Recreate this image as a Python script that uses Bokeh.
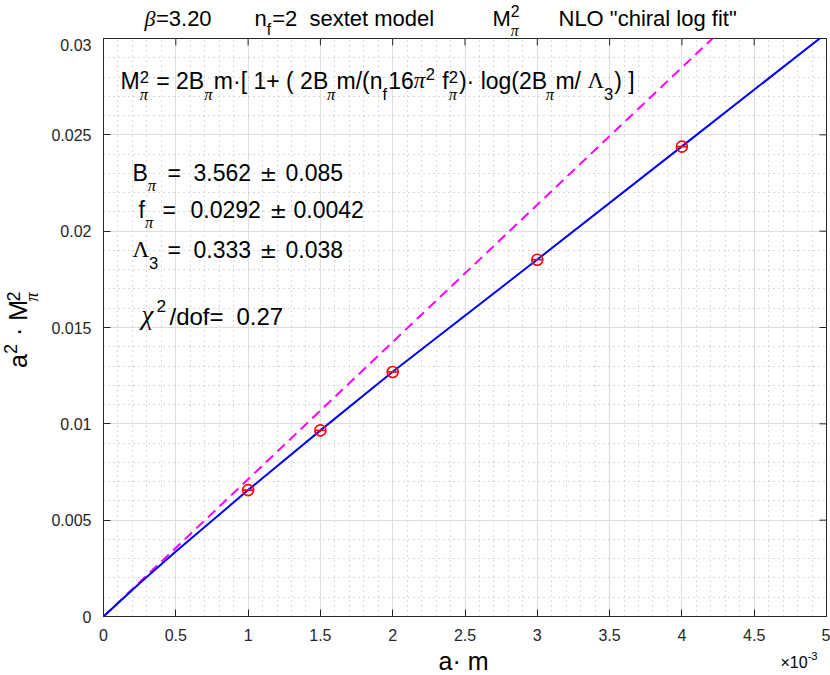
import math
from bokeh.plotting import figure
from bokeh.layouts import column, row
from bokeh.models import Label, Range1d, FixedTicker, CustomJSTickFormatter
from bokeh.embed import file_html
from bokeh.resources import INLINE

# ---------------- data ----------------
am_data = [1.0e-3, 1.5e-3, 2.0e-3, 3.0e-3, 4.0e-3]
m2_data = [0.00656, 0.00966, 0.01269, 0.01852, 0.02439]

fit_m = [0.0, 0.25e-3, 0.5e-3, 1.0e-3, 1.5e-3, 2.0e-3, 3.0e-3, 4.0e-3, 5.0e-3]
fit_m2 = [0.0, 0.00172, 0.00337, 0.00656, 0.00966, 0.01270, 0.01853, 0.02440, 0.03028]

lo_m = [0.0, 5.0e-3]
lo_m2 = [0.0, 0.03562]

x_ticks = [0.0, 0.5e-3, 1.0e-3, 1.5e-3, 2.0e-3, 2.5e-3, 3.0e-3, 3.5e-3, 4.0e-3, 4.5e-3, 5.0e-3]
y_ticks = [0.0, 0.005, 0.010, 0.015, 0.020, 0.025, 0.030]
x_minor = [i * 1.0e-4 for i in range(0, 51)]
y_minor = [i * 1.0e-3 for i in range(0, 31)]

title_parts = ["=3.20", "=2\u00a0\u00a0sextet model", 'NLO "chiral log fit"']
fit_values = ["3.562", "0.0292", "0.333"]
fit_errors = ["0.085", "0.0042", "0.038"]
chi2_dof = "0.27"

AX = "#262626"
SANS = "Liberation Sans"
SERIF = "Liberation Serif"
NB = "\u00a0"
PI, BETA, CHI, LAM, PM = "\u03c0", "\u03b2", "\u03c7", "\u039b", "\u00b1"

TITLE_H = 38
MAIN_H = 607
BOT_Y = TITLE_H + MAIN_H   # 645


def text_fig(w, h, x0, y0):
    f = figure(width=w, height=h, x_range=Range1d(x0, x0 + w), y_range=Range1d(y0 + h, y0),
               output_backend="svg", toolbar_location=None, x_axis_type=None, y_axis_type=None,
               min_border=0)
    f.outline_line_color = None
    f.grid.visible = False
    f.background_fill_color = "white"
    f.border_fill_color = "white"
    return f


# ---------------- main figure ----------------
p = figure(width=782, height=MAIN_H,
           x_range=Range1d(0, 0.005), y_range=Range1d(0, 0.03),
           output_backend="svg", toolbar_location=None,
           min_border_left=52, min_border_right=4, min_border_top=0, min_border_bottom=29)
p.background_fill_color = "white"
p.border_fill_color = "white"
p.outline_line_color = AX
p.outline_line_width = 1

xfmt = CustomJSTickFormatter(code="return String(Math.round(tick*1e4)/10)")
yfmt = CustomJSTickFormatter(code="return String(Math.round(tick*1e4)/1e4)")


def style_axis(ax, ticks, minor, fmt):
    ax.ticker = FixedTicker(ticks=ticks, minor_ticks=minor)
    ax.formatter = fmt
    ax.axis_line_color = AX
    ax.major_tick_line_color = AX
    ax.major_tick_in = 7
    ax.major_tick_out = 0
    ax.minor_tick_line_color = None
    ax.major_label_text_color = AX
    ax.major_label_text_font = SANS
    ax.major_label_text_font_size = "16px"


style_axis(p.xaxis[0], x_ticks, x_minor, xfmt)
style_axis(p.yaxis[0], y_ticks, y_minor, yfmt)
p.xaxis[0].major_label_standoff = 8
p.yaxis[0].major_label_standoff = 8

for g in (p.xgrid[0], p.ygrid[0]):
    g.grid_line_color = "#dedede"
    g.grid_line_width = 1
    g.minor_grid_line_color = "#b4b4b4"
    g.minor_grid_line_dash = "1 4"
    g.minor_grid_line_width = 1

# inward ticks on the top and right sides of the box (half of each dash is clipped away)
p.scatter(x_ticks, [0.03] * len(x_ticks), marker="dash", angle=math.pi / 2, size=14,
          line_color=AX, line_width=1)
p.scatter([0.005] * len(y_ticks), y_ticks, marker="dash", size=14, line_color=AX, line_width=1)

p.line(lo_m, lo_m2, line_color="#ff00ff", line_width=2, line_dash="10 6")
p.line(fit_m, fit_m2, line_color="#0000ff", line_width=2)
p.scatter(am_data, m2_data, marker="circle", size=11, fill_color=None,
          line_color="#ff0000", line_width=1.6)
p.scatter(am_data, m2_data, marker="dash", size=11, line_color="#ff0000", line_width=1.6)

# ---------------- text figures around the main one ----------------
tfig = text_fig(830, TITLE_H, 0, 0)
yfig = text_fig(48, MAIN_H, 0, TITLE_H)
bfig = text_fig(830, 675 - BOT_Y, 0, BOT_Y)

AW = {' ': .278, NB: .278, '"': .355, '(': .333, ')': .333, '+': .584, '.': .278, '/': .278,
      '=': .584, '[': .278, ']': .278, '\u00b7': .278, PM: .584, '\u00d7': .584, '-': .584,
      'a': .556, 'c': .5, 'd': .556, 'e': .556, 'f': .278, 'g': .556, 'h': .556, 'i': .222,
      'l': .222, 'm': .833, 'n': .556, 'o': .556, 'r': .333, 's': .5, 't': .278, 'x': .5,
      'B': .667, 'L': .556, 'M': .833, 'N': .722, 'O': .778}
GW = {PI: .52, BETA: .52, CHI: .58, LAM: .72}
KB = 0.38   # the labels are drawn about 0.38 em lower than the anchor: compensate


def tw(text, fam, size):
    table = AW if fam == "s" else GW
    return sum(table.get(c, .556) for c in text) * size


def put(fig, text, fam, size, X, Y, along, perp, angle):
    if angle == 0:
        xo, yo = along, perp + KB * size
    else:
        xo, yo = -perp - KB * size, along
    if fig is p:
        x, y = 0.0, 0.0
        xo, yo = xo + X - 100.0, yo + 616.0 - Y
    else:
        x, y = X, Y
    font = {"s": SANS, "gi": SERIF, "gu": SERIF, "d": "DejaVu Sans"}[fam]
    style = "italic" if fam == "gi" else "normal"
    fig.add_layout(Label(x=x, y=y, x_offset=xo, y_offset=yo, text=text,
                         text_font=font, text_font_style=style, text_font_size=f"{size:.1f}px",
                         text_color="#000000", text_baseline="alphabetic", text_align="left",
                         angle=angle))


def rich(fig, X, Y, segs, S, angle=0.0, rise=0.40, drop=0.45, sr=0.72, srise=0.28):
    adv = 0.0
    for seg in segs:
        if seg[0] == "stack":
            ss = S * sr
            sup, sub = seg[1], seg[2]
            put(fig, sup, "s", ss, X, Y, adv, S * srise, angle)
            put(fig, sub, "gi", ss, X, Y, adv, -S * drop, angle)
            adv += max(tw(sup, "s", ss), tw(sub, "gi", ss)) + 1
            continue
        text, role, fam = seg
        if role == "b":
            put(fig, text, fam, S, X, Y, adv, 0, angle)
            adv += tw(text, fam, S)
        else:
            ss = S * sr
            perp = S * rise if role == "sup" else -S * drop
            put(fig, text, fam, ss, X, Y, adv, perp, angle)
            adv += tw(text, fam, ss) + 1
    return adv


# title
rich(tfig, 144, 26, [(BETA, "b", "gi"), (title_parts[0], "b", "s")], 22)
rich(tfig, 254, 26, [("n", "b", "s"), ("f", "sub", "s"), (title_parts[1], "b", "s")], 22,
     drop=0.40)
rich(tfig, 492, 26, [("M", "b", "s"), ("stack", "2", PI)], 22, drop=0.44, srise=0.42)
rich(tfig, 558, 26, [(title_parts[2], "b", "s")], 22)

# formula
rich(p, 117, 89, [("M", "b", "s"), ("stack", "2", PI),
                  (NB + "=" + NB + "2B", "b", "s"), (PI, "sub", "gi"),
                  ("m\u00b7[" + NB + "1+" + NB + "(" + NB + "2B", "b", "s"), (PI, "sub", "gi"),
                  ("m/(n", "b", "s"), ("f", "sub", "s"),
                  ("16", "b", "s"), (PI, "b", "gi"), ("2", "sup", "s"),
                  (NB + "f", "b", "s"), ("stack", "2", PI),
                  (")\u00b7" + NB + "log(2B", "b", "s"), (PI, "sub", "gi"),
                  ("m/" + NB, "b", "s"), (LAM, "b", "gu"), ("3", "sub", "s"),
                  (")" + NB + "]", "b", "s")], 23, drop=0.48)

# fit results: symbol, '=', value, '±', error placed at measured positions
rows = [(181, [("B", "b", "s"), (PI, "sub", "gi")], 129, 164, 190, 256, 282),
        (218, [("f", "b", "s"), (PI, "sub", "gi")], 135, 159, 187, 266, 290),
        (258, [(LAM, "b", "gu"), ("3", "sub", "s")], 129, 164, 190, 256, 282)]
for i, (yb, sym, xs, xe, xv, xpm, xerr) in enumerate(rows):
    rich(p, xs, yb, sym, 23)
    rich(p, xe, yb, [("=", "b", "s")], 23)
    rich(p, xv, yb, [(fit_values[i], "b", "s")], 23)
    rich(p, xpm, yb, [(PM, "b", "d")], 21)
    rich(p, xerr, yb, [(fit_errors[i], "b", "s")], 23)

rich(p, 138, 325, [(CHI, "b", "gi")], 27)
rich(p, 153, 325, [("2", "sup", "s")], 24, rise=0.55)
rich(p, 166, 325, [("/dof=", "b", "s")], 24)
rich(p, 233, 325, [(chi2_dof, "b", "s")], 24)

# axis labels
rich(bfig, 438, 670, [("a\u00b7" + NB + "m", "b", "s")], 25)
rich(bfig, 780, 668, [("\u00d710", "b", "s"), ("-3", "sup", "s")], 16, rise=0.5, sr=0.7)
rich(yfig, 27, 384, [("a", "b", "s"), ("2", "sup", "s"),
                     (NB + "\u00b7" + NB + "M", "b", "s"),
                     ("stack", "2", PI)], 25, angle=math.pi / 2)

layout = column(tfig, row(yfig, p), bfig)
open("out.html", "w").write(file_html(layout, INLINE))
